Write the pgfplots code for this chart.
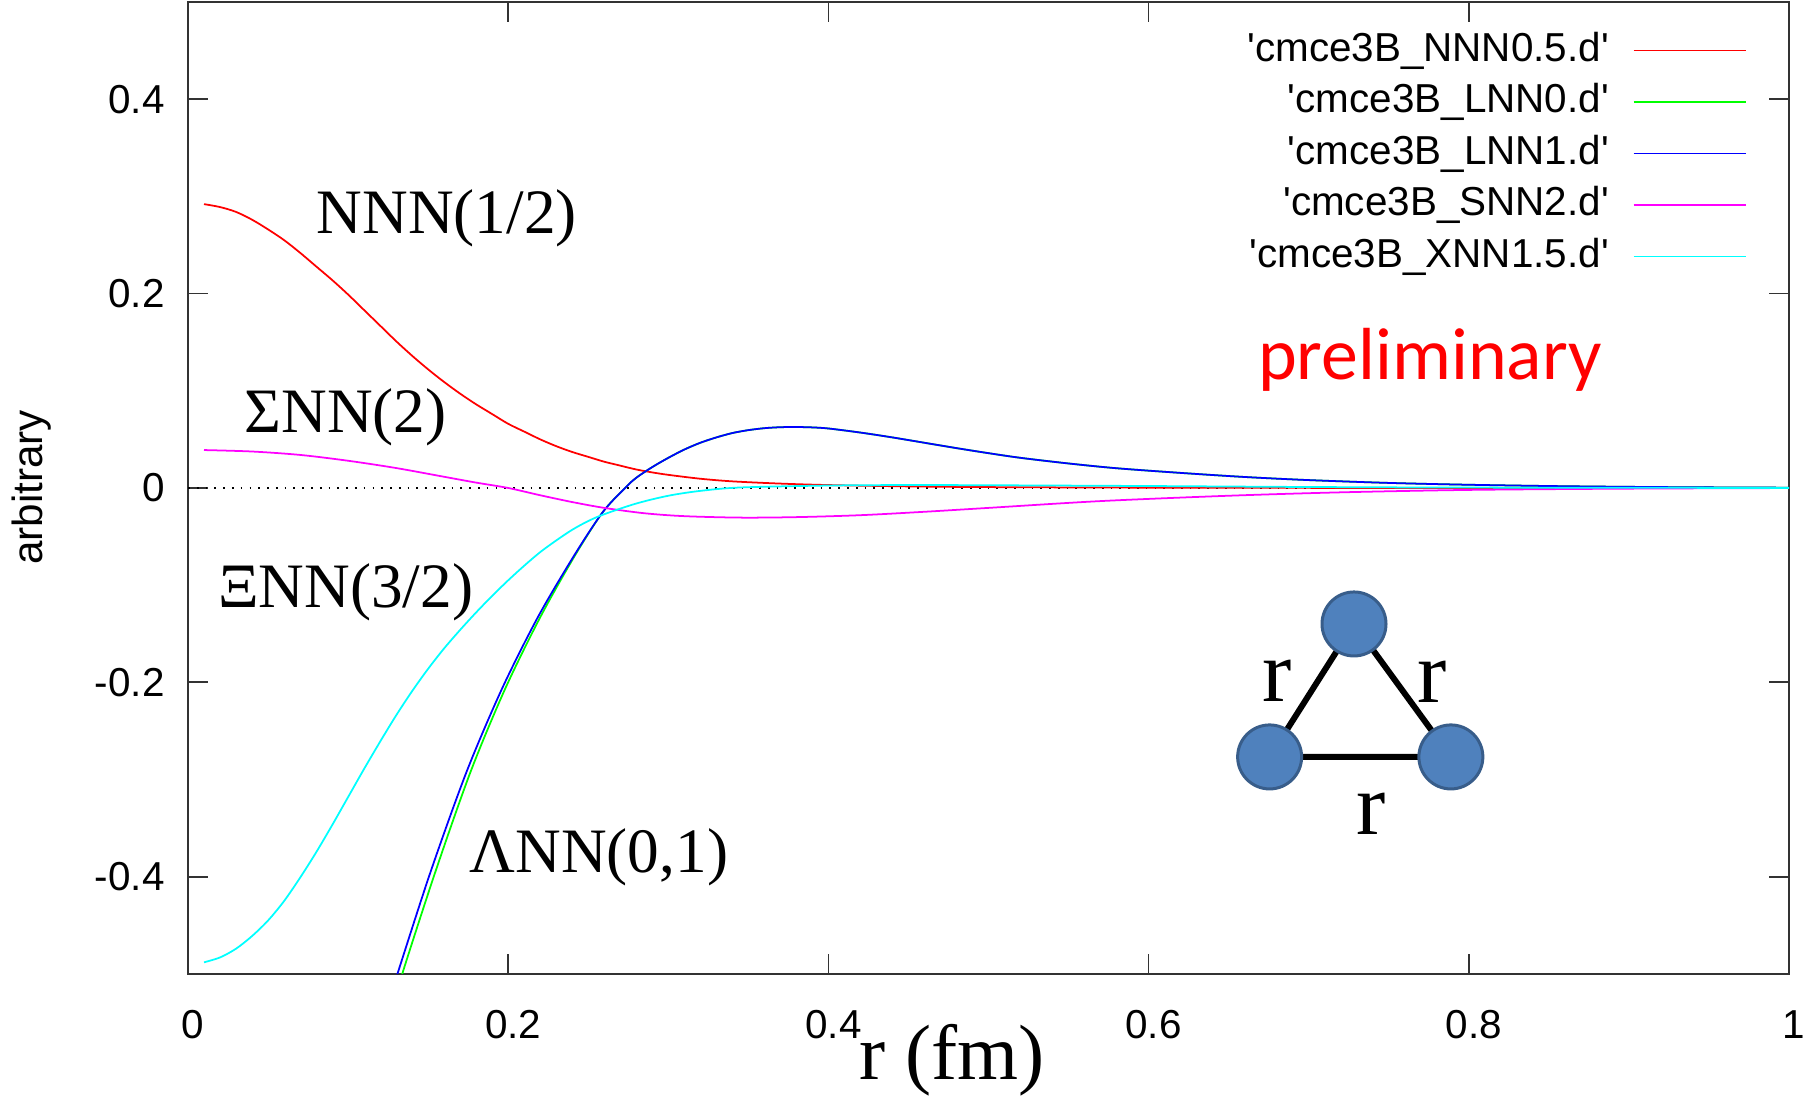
\documentclass[border=0pt]{standalone}
\usepackage{fontspec}
\setmainfont{Liberation Sans}
\newfontfamily\timesf{Liberation Serif}
\newfontfamily\calib{Carlito}
\usepackage{pgfplots}
\pgfplotsset{compat=1.18}
\definecolor{ballfill}{RGB}{79,129,189}
\definecolor{balledge}{RGB}{56,93,138}
\definecolor{gpred}{RGB}{255,0,0}
\definecolor{gpgreen}{RGB}{0,255,0}
\definecolor{gpblue}{RGB}{0,0,255}
\definecolor{gpmag}{RGB}{255,0,255}
\definecolor{gpcyan}{RGB}{0,255,255}
\begin{document}
\begin{tikzpicture}
\begin{axis}[
  scale only axis, width=160.1mm, height=97.2mm,
  xmin=0, xmax=1, ymin=-0.5, ymax=0.5,
  xtick={0,0.2,0.4,0.6,0.8,1}, xticklabels={0,0.2,0.4,0.6,0.8,1},
  ytick={-0.4,-0.2,0,0.2,0.4}, yticklabels={-0.4,-0.2,0,0.2,0.4},
  tick align=inside, major tick length=2mm,
  tick style={black!80, line width=0.5pt},
  axis line style={black!80, line width=0.6pt},
  ticklabel style={font=\fontsize{11.5}{13}\selectfont},
  xticklabel style={yshift=-2.4mm, xshift=0.5mm},
  yticklabel style={xshift=-1.1mm},
  every axis plot/.append style={line width=0.5pt},
  legend cell align=right, legend plot pos=right,
  legend image code/.code={\draw[#1] (0mm,0mm) -- (11.2mm,0mm);},
  legend style={draw=none, fill=none, at={(rel axis cs:0.9735,0.9717)}, anchor=north east,
    inner sep=0pt, outer sep=0pt, font=\fontsize{11.5}{13}\selectfont,
    row sep=0.95mm, column sep=2.4mm,
    nodes={inner sep=0pt, text height=3.2mm, text depth=1.0mm}},
]
\draw[black, line width=0.4pt, dash pattern=on 0.5pt off 2pt] (axis cs:0,0) -- (axis cs:1,0);

\addplot[gpred, smooth, tension=0.5] coordinates {
(0.01,0.292) (0.02,0.289) (0.03,0.284) (0.04,0.276) (0.05,0.266) (0.06,0.255)
(0.07,0.242) (0.08,0.228) (0.09,0.214) (0.10,0.199) (0.11,0.183) (0.12,0.167)
(0.13,0.151) (0.14,0.136) (0.15,0.122) (0.16,0.109) (0.17,0.097) (0.18,0.086)
(0.19,0.076) (0.20,0.066) (0.21,0.058) (0.22,0.050) (0.23,0.043) (0.24,0.037)
(0.25,0.032) (0.26,0.027) (0.27,0.023) (0.28,0.019) (0.29,0.016) (0.30,0.0135)
(0.32,0.0095) (0.34,0.0068) (0.37,0.0045) (0.40,0.003) (0.45,0.0016)
(0.50,0.0009) (0.60,0.0003) (0.70,0.0001) (1.0,0)};
\addlegendentry{\textquotesingle cmce3B\_NNN0.5.d\textquotesingle}

\addplot[gpgreen, smooth, tension=0.5] coordinates {
(0.131,-0.52) (0.134,-0.499) (0.1545,-0.395) (0.1765,-0.292) (0.198,-0.207)
(0.220,-0.133) (0.2415,-0.070) (0.259,-0.025) (0.273,0.0) (0.28,0.0105)
(0.29,0.0215) (0.30,0.031) (0.31,0.0395) (0.32,0.0465) (0.33,0.052)
(0.34,0.0565) (0.35,0.0595) (0.36,0.0615) (0.37,0.0625) (0.38,0.0627)
(0.39,0.0623) (0.40,0.0612) (0.42,0.0570) (0.44,0.0520) (0.46,0.0465)
(0.48,0.0410) (0.50,0.0358) (0.52,0.0310) (0.55,0.0252) (0.58,0.0203)
(0.62,0.0155) (0.66,0.0113) (0.70,0.0081) (0.75,0.0052) (0.80,0.0033)
(0.86,0.0018) (0.93,0.0008) (1.0,0.0003)};
\addlegendentry{\textquotesingle cmce3B\_LNN0.d\textquotesingle}

\addplot[gpblue, smooth, tension=0.5] coordinates {
(0.127,-0.52) (0.131,-0.499) (0.1515,-0.395) (0.174,-0.292) (0.196,-0.207)
(0.2185,-0.133) (0.241,-0.070) (0.259,-0.025) (0.273,0.0) (0.28,0.0105)
(0.29,0.0215) (0.30,0.031) (0.31,0.0395) (0.32,0.0465) (0.33,0.052)
(0.34,0.0565) (0.35,0.0595) (0.36,0.0615) (0.37,0.0625) (0.38,0.0627)
(0.39,0.0623) (0.40,0.0612) (0.42,0.0570) (0.44,0.0520) (0.46,0.0465)
(0.48,0.0410) (0.50,0.0358) (0.52,0.0310) (0.55,0.0252) (0.58,0.0203)
(0.62,0.0155) (0.66,0.0113) (0.70,0.0081) (0.75,0.0052) (0.80,0.0033)
(0.86,0.0018) (0.93,0.0008) (1.0,0.0003)};
\addlegendentry{\textquotesingle cmce3B\_LNN1.d\textquotesingle}

\addplot[gpmag, smooth, tension=0.5] coordinates {
(0.01,0.039) (0.04,0.0375) (0.07,0.034) (0.10,0.028) (0.13,0.0205) (0.16,0.0115)
(0.18,0.0055) (0.20,0.0) (0.22,-0.0075) (0.24,-0.0145) (0.26,-0.0205) (0.285,-0.026)
(0.31,-0.029) (0.345,-0.0305) (0.38,-0.030) (0.42,-0.028) (0.46,-0.0245)
(0.50,-0.0205) (0.57,-0.0135) (0.65,-0.008) (0.72,-0.0045) (0.80,-0.002)
(0.90,-0.0007) (1.0,-0.0001)};
\addlegendentry{\textquotesingle cmce3B\_SNN2.d\textquotesingle}

\addplot[gpcyan, smooth, tension=0.5] coordinates {
(0.01,-0.488) (0.02,-0.483) (0.03,-0.474) (0.04,-0.461) (0.05,-0.445) (0.06,-0.425)
(0.07,-0.401) (0.08,-0.375) (0.09,-0.347) (0.10,-0.318) (0.11,-0.289) (0.12,-0.261)
(0.13,-0.234) (0.14,-0.209) (0.15,-0.186) (0.16,-0.165) (0.17,-0.146) (0.18,-0.128)
(0.19,-0.111) (0.20,-0.095) (0.21,-0.080) (0.22,-0.066) (0.23,-0.054) (0.24,-0.043)
(0.25,-0.034) (0.26,-0.027) (0.28,-0.016) (0.30,-0.008) (0.32,-0.003) (0.345,0.0005)
(0.40,0.0025) (0.45,0.003) (0.50,0.0028) (0.60,0.002) (0.70,0.001)
(0.80,0.0004) (1.0,0)};
\addlegendentry{\textquotesingle cmce3B\_XNN1.5.d\textquotesingle}

\node[anchor=base west, inner sep=0pt, font=\timesf\fontsize{18}{20}\selectfont] at (axis cs:0.080,0.2613) {NNN(1/2)};
\node[anchor=base west, inner sep=0pt, font=\timesf\fontsize{18}{20}\selectfont] at (axis cs:0.035,0.0566) {ΣNN(2)};
\node[anchor=base west, inner sep=0pt, font=\timesf\fontsize{18}{20}\selectfont] at (axis cs:0.0184,-0.1230) {ΞNN(3/2)};
\node[anchor=base west, inner sep=0pt, font=\timesf\fontsize{18}{20}\selectfont] at (axis cs:0.1755,-0.3961) {ΛNN(0,1)};
\node[anchor=base west, inner sep=0pt, text=red, font=\calib\fontsize{21}{24}\selectfont] at (axis cs:0.6680,0.1121) {preliminary};

\draw[black, line width=0.6mm] (axis cs:0.6756,-0.2767) -- (axis cs:0.7283,-0.1399) -- (axis cs:0.7888,-0.2767) -- cycle;
\draw[fill=ballfill, draw=balledge, line width=0.3mm] (axis cs:0.7283,-0.1399) circle[radius=3.2mm];
\draw[fill=ballfill, draw=balledge, line width=0.3mm] (axis cs:0.6756,-0.2767) circle[radius=3.2mm];
\draw[fill=ballfill, draw=balledge, line width=0.3mm] (axis cs:0.7888,-0.2767) circle[radius=3.2mm];
\node[anchor=base west, inner sep=0pt, font=\timesf\fontsize{25}{28}\selectfont] at (axis cs:0.6706,-0.2198) {r};
\node[anchor=base west, inner sep=0pt, font=\timesf\fontsize{25}{28}\selectfont] at (axis cs:0.7675,-0.2212) {r};
\node[anchor=base west, inner sep=0pt, font=\timesf\fontsize{25}{28}\selectfont] at (axis cs:0.7295,-0.3567) {r};
\end{axis}
\node[anchor=base west, inner sep=0pt, font=\timesf\fontsize{22.3}{25}\selectfont] at (67.1mm,-10.6mm) {r (fm)};
\node[rotate=90, inner sep=0pt, font=\fontsize{12}{14}\selectfont] at (-15.6mm,48.65mm) {arbitrary};
\pgfresetboundingbox
\path[use as bounding box] (-18.8mm,-12.4mm) rectangle (161.8mm,97.4mm);
\end{tikzpicture}
\end{document}
